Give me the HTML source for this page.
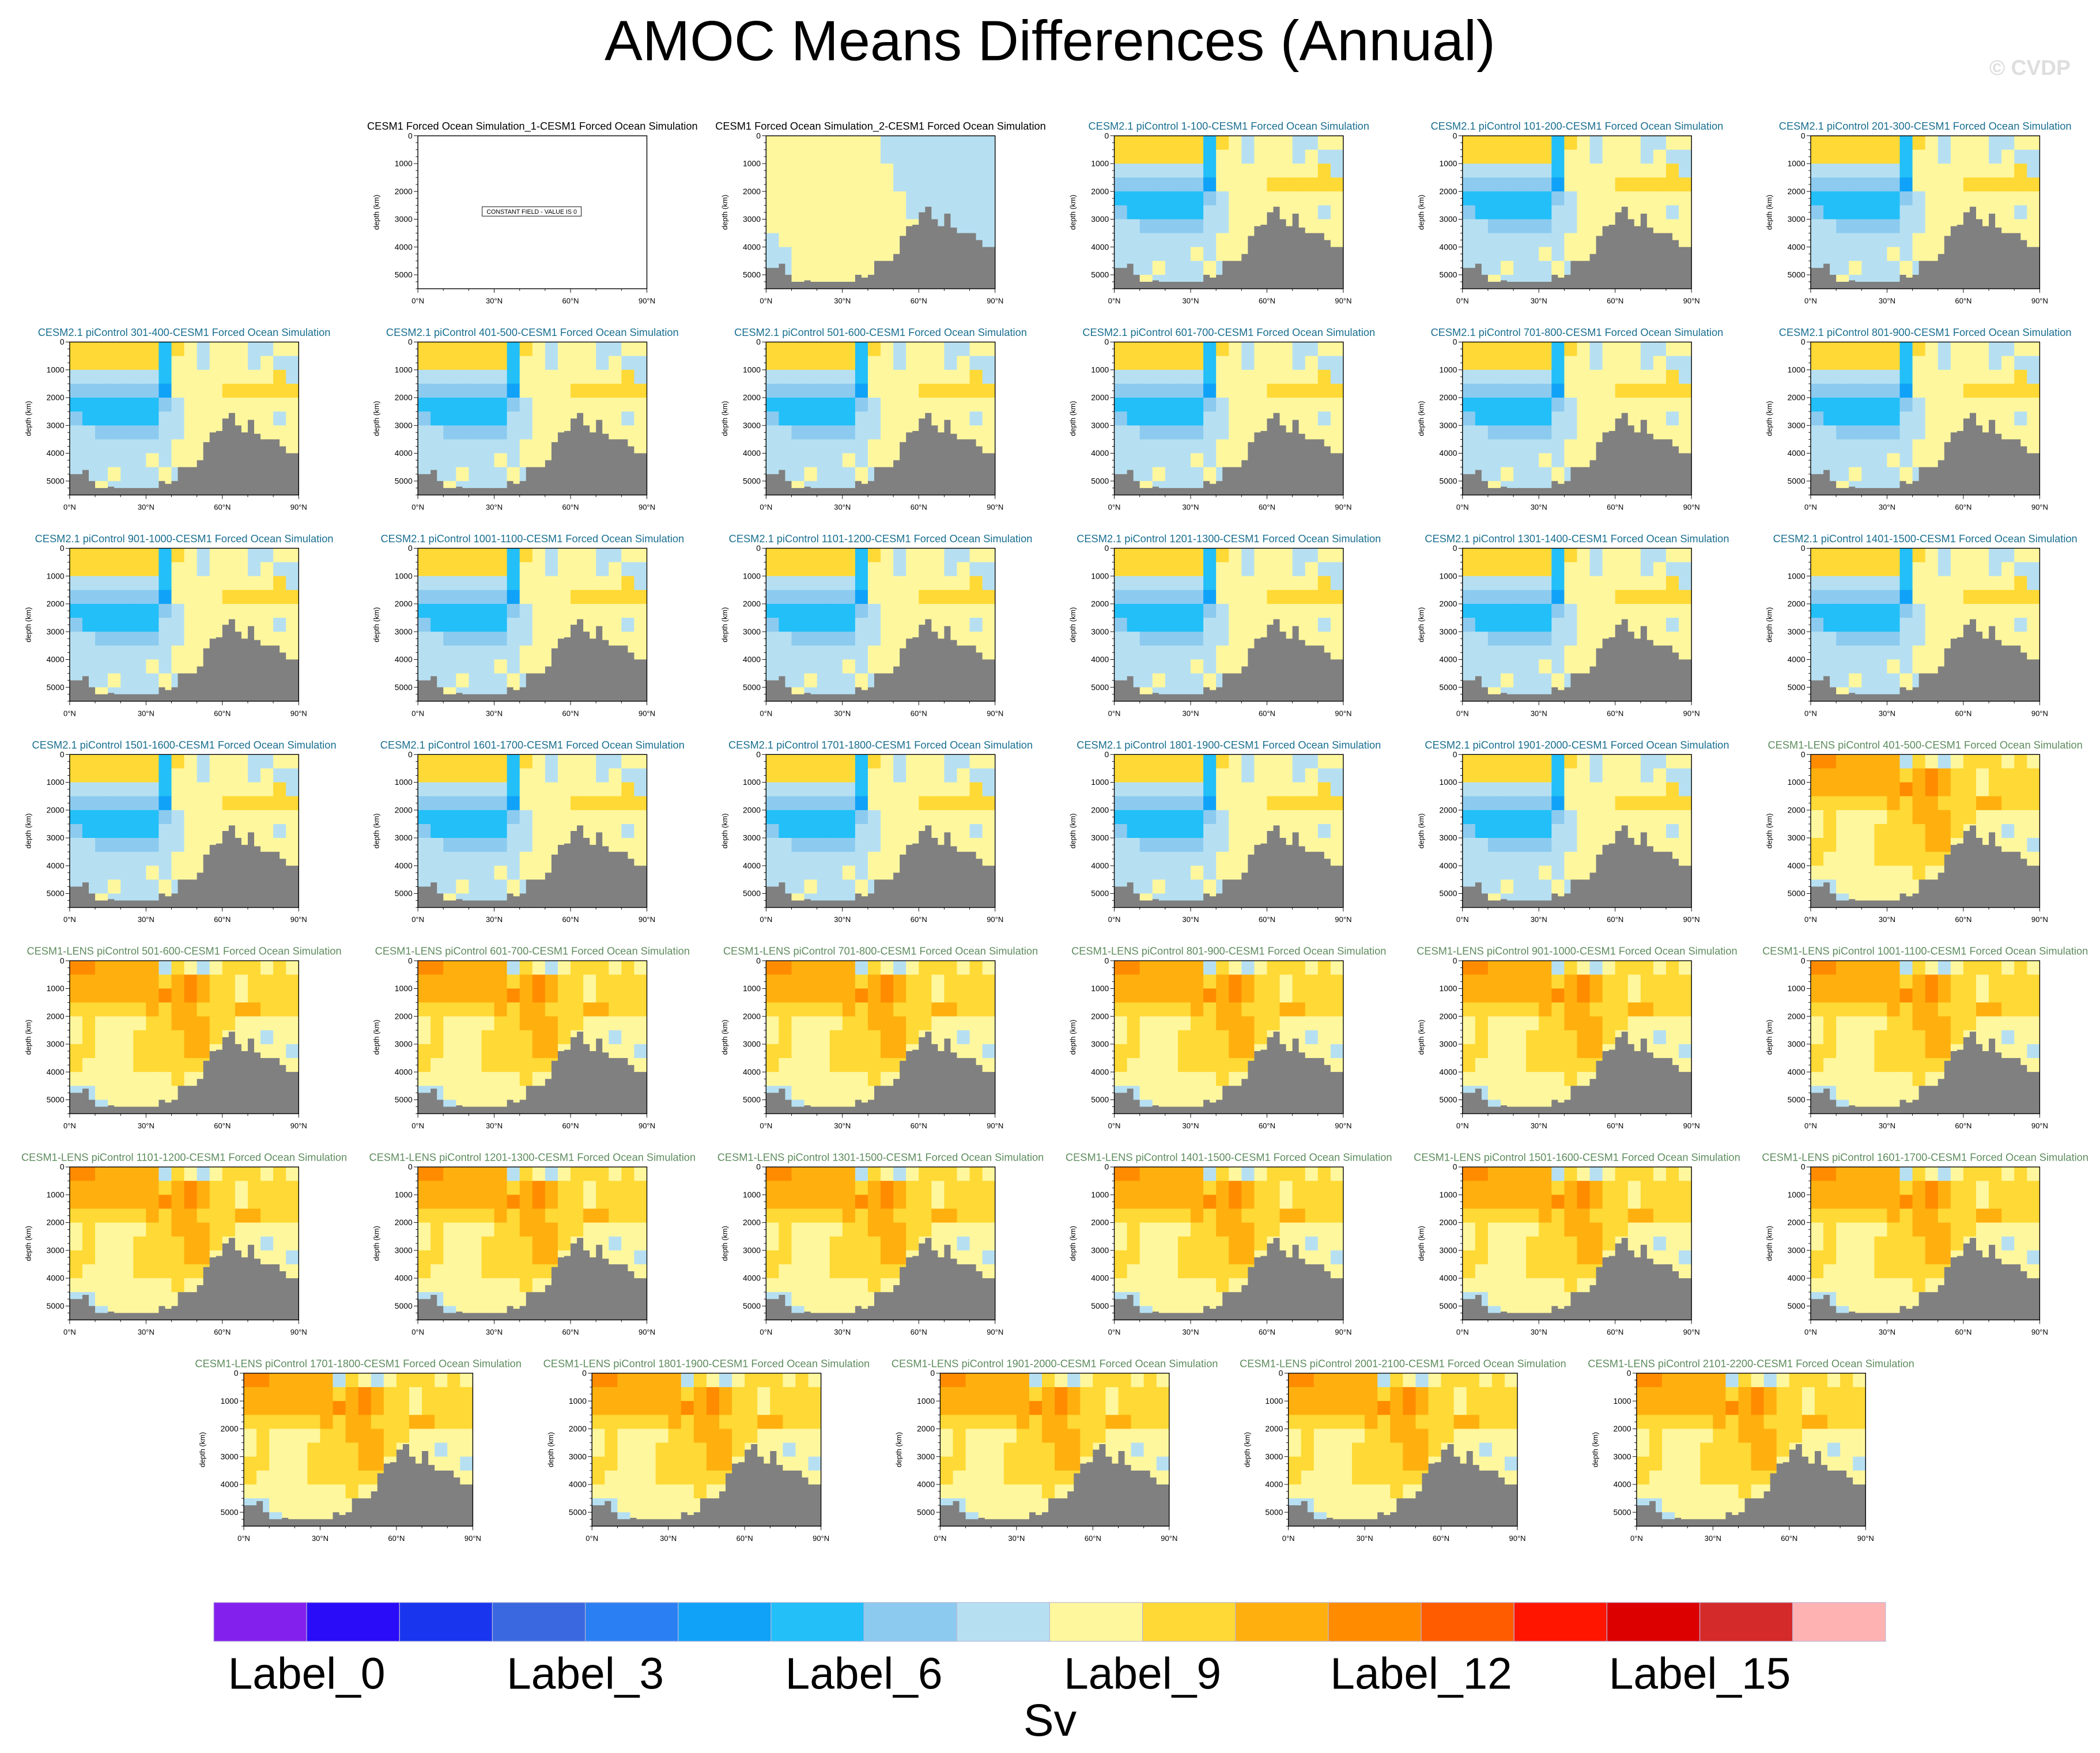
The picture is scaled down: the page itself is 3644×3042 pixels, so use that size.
<!DOCTYPE html>
<html><head><meta charset="utf-8"><style>
html,body{margin:0;padding:0;background:#fff}
svg{display:block}
text{font-family:"Liberation Sans",sans-serif}
</style></head><body>
<svg id="chart" xmlns="http://www.w3.org/2000/svg" width="3644" height="3042" viewBox="0 0 1568 1309">
<rect x="0" y="0" width="1568" height="1309" fill="#fff"/>
<text x="784" y="45" font-size="42.5" text-anchor="middle">AMOC Means Differences (Annual)</text>
<text x="1546" y="56" font-size="16" font-weight="bold" fill="#dedede" text-anchor="end">© CVDP</text>
<g id="panels"></g>
<g id="cbar"></g>
<text x="784" y="1296" font-size="34" text-anchor="middle">Sv</text>
</svg>
<script>
const colors=["#8420ee","#2b0cf8","#1a35ee","#3a68e0","#2a80f2","#10a2f8","#22bff8","#8ccbef","#b6e0f2","#fff79e","#ffd935","#ffb00e","#ff8c00","#ff5c00","#ff1500","#dd0000","#d42a2a","#ffb2b2"];
const cbarLabels=["Label_0","Label_3","Label_6","Label_9","Label_12","Label_15"];
const depthTicks=[0,1000,2000,3000,4000,5000];
const latTicks=[0,30,60,90];
const topo=[4750,4750,4600,5000,5250,5250,5200,5250,5250,5250,5250,5250,5250,5250,5000,5100,5000,4500,4500,4500,4250,3600,3250,3200,2750,2550,3000,3250,2800,3300,3500,3500,3500,3750,4000,4000];
const gridCESM2=["aaaaaaa6a989998899","aaaaaaa69989998988","8888888699999999a8","777777759999aaaaaa","666666678999999999","766666688999999989","887777788999999999","888888889999999999","888888989999999999","888988898999999999","989888899999999999"];
const gridLENS=["ccbbbbb8a989aaa9a9","bbbbbbbabcbaa9aaaa","bbbbbbbcbcbaa9aaaa","aaaaaababbaaabbaaa","9a9999aabbbaa99999","9a999aaaabba999899","aa999aaaabb9999998","a9999aaaaaa9999999","99999999a999999999","889999999999999999","988999998999999999"];
const gridSim2=["999999999888888888","999999999888888888","999999999988888888","999999999988888888","999999999998888888","999999999998888888","999999999999888888","899999999999888888","889999999999988888","889999999999998888","999999999999998888"];
const titles=[
["CESM1 Forced Ocean Simulation_1-CESM1 Forced Ocean Simulation","const"],
["CESM1 Forced Ocean Simulation_2-CESM1 Forced Ocean Simulation","sim2"],
["CESM2.1 piControl 1-100-CESM1 Forced Ocean Simulation","c2"],
["CESM2.1 piControl 101-200-CESM1 Forced Ocean Simulation","c2"],
["CESM2.1 piControl 201-300-CESM1 Forced Ocean Simulation","c2"],
["CESM2.1 piControl 301-400-CESM1 Forced Ocean Simulation","c2"],
["CESM2.1 piControl 401-500-CESM1 Forced Ocean Simulation","c2"],
["CESM2.1 piControl 501-600-CESM1 Forced Ocean Simulation","c2"],
["CESM2.1 piControl 601-700-CESM1 Forced Ocean Simulation","c2"],
["CESM2.1 piControl 701-800-CESM1 Forced Ocean Simulation","c2"],
["CESM2.1 piControl 801-900-CESM1 Forced Ocean Simulation","c2"],
["CESM2.1 piControl 901-1000-CESM1 Forced Ocean Simulation","c2"],
["CESM2.1 piControl 1001-1100-CESM1 Forced Ocean Simulation","c2"],
["CESM2.1 piControl 1101-1200-CESM1 Forced Ocean Simulation","c2"],
["CESM2.1 piControl 1201-1300-CESM1 Forced Ocean Simulation","c2"],
["CESM2.1 piControl 1301-1400-CESM1 Forced Ocean Simulation","c2"],
["CESM2.1 piControl 1401-1500-CESM1 Forced Ocean Simulation","c2"],
["CESM2.1 piControl 1501-1600-CESM1 Forced Ocean Simulation","c2"],
["CESM2.1 piControl 1601-1700-CESM1 Forced Ocean Simulation","c2"],
["CESM2.1 piControl 1701-1800-CESM1 Forced Ocean Simulation","c2"],
["CESM2.1 piControl 1801-1900-CESM1 Forced Ocean Simulation","c2"],
["CESM2.1 piControl 1901-2000-CESM1 Forced Ocean Simulation","c2"],
["CESM1-LENS piControl 401-500-CESM1 Forced Ocean Simulation","le"],
["CESM1-LENS piControl 501-600-CESM1 Forced Ocean Simulation","le"],
["CESM1-LENS piControl 601-700-CESM1 Forced Ocean Simulation","le"],
["CESM1-LENS piControl 701-800-CESM1 Forced Ocean Simulation","le"],
["CESM1-LENS piControl 801-900-CESM1 Forced Ocean Simulation","le"],
["CESM1-LENS piControl 901-1000-CESM1 Forced Ocean Simulation","le"],
["CESM1-LENS piControl 1001-1100-CESM1 Forced Ocean Simulation","le"],
["CESM1-LENS piControl 1101-1200-CESM1 Forced Ocean Simulation","le"],
["CESM1-LENS piControl 1201-1300-CESM1 Forced Ocean Simulation","le"],
["CESM1-LENS piControl 1301-1500-CESM1 Forced Ocean Simulation","le"],
["CESM1-LENS piControl 1401-1500-CESM1 Forced Ocean Simulation","le"],
["CESM1-LENS piControl 1501-1600-CESM1 Forced Ocean Simulation","le"],
["CESM1-LENS piControl 1601-1700-CESM1 Forced Ocean Simulation","le"],
["CESM1-LENS piControl 1701-1800-CESM1 Forced Ocean Simulation","le"],
["CESM1-LENS piControl 1801-1900-CESM1 Forced Ocean Simulation","le"],
["CESM1-LENS piControl 1901-2000-CESM1 Forced Ocean Simulation","le"],
["CESM1-LENS piControl 2001-2100-CESM1 Forced Ocean Simulation","le"],
["CESM1-LENS piControl 2101-2200-CESM1 Forced Ocean Simulation","le"]
];
const NS="http://www.w3.org/2000/svg";
function mk(tag,attrs,parent){const e=document.createElementNS(NS,tag);for(const k in attrs)e.setAttribute(k,attrs[k]);parent.appendChild(e);return e;}
const panels=document.getElementById('panels');
const PW=171,PH=114.2,T0=101.4,RS=154;
const colLeft=[52,312,572,832,1092,1352];
const titleColor={const:"#000",sim2:"#000",c2:"#1a6f90",le:"#5e8c5e"};
titles.forEach((t,i)=>{
  let r,c,L;
  if(i<5){r=0;c=i+1;L=colLeft[c];}
  else if(i<35){r=1+Math.floor((i-5)/6);c=(i-5)%6;L=colLeft[c];}
  else{r=6;c=i-35;L=182+260*c;}
  const T=T0+RS*r;
  const xs=lat=>L+lat/90*PW, ys=d=>T+d/5500*PH;
  const g=mk('g',{},panels);
  
  
  const tt=mk('text',{x:L+PW/2,y:T-4.5,'font-size':7.85,'text-anchor':'middle',fill:titleColor[t[1]]},g);
  
  
  tt.textContent=t[0];
  if(t[1]!=='const'){
    const grid=t[1]==='c2'?gridCESM2:(t[1]==='le'?gridLENS:gridSim2);
    grid.forEach((row,ri)=>{
      for(let ci=0;ci<row.length;ci++){
        const lv=parseInt(row[ci],16);
        const x0=xs(ci*5),x1=xs((ci+1)*5),y0=ys(ri*500),y1=ys((ri+1)*500);
        const rc=mk('rect',{x:x0,y:y0,width:Math.min(x1-x0+0.4,L+PW-x0),height:Math.min(y1-y0+0.4,T+PH-y0),fill:colors[lv]},g);
        
        
      }
    });
    let p='M'+xs(0)+','+ys(5500);
    topo.forEach((d,k)=>{p+=' L'+xs(k*2.5)+','+ys(d)+' L'+xs((k+1)*2.5)+','+ys(d);});
    p+=' L'+xs(90)+','+ys(5500)+' Z';
    const tp=mk('path',{d:p,fill:'#808080'},g);
    
    
  } else {
    const bx=mk('rect',{x:L+48,y:T+53,width:74,height:7,fill:'#fff',stroke:'#000','stroke-width':0.4},g);
    
    
    const bt=mk('text',{x:L+85,y:T+58.3,'font-size':4.6,'text-anchor':'middle'},g);
    
    
    bt.textContent='CONSTANT FIELD - VALUE IS 0';
  }
  const fr=mk('rect',{x:L,y:T,width:PW,height:PH,fill:'none',stroke:'#000','stroke-width':0.6},g);
  
  
  for(let d=0;d<=5500;d+=250){
    const major=d%1000===0;
    const tk=mk('line',{x1:L,x2:L-(major?3:1.6),y1:ys(d),y2:ys(d),stroke:'#000','stroke-width':0.4},g);
    
    
  }
  depthTicks.forEach(d=>{
    const tl=mk('text',{x:L-4,y:ys(d)+2,'font-size':6,'text-anchor':'end'},g);
    
    
    tl.textContent=d;
  });
  for(let a=0;a<=90;a+=10){
    const major=a%30===0;
    const tk=mk('line',{x1:xs(a),x2:xs(a),y1:T+PH,y2:T+PH+(major?3:1.6),stroke:'#000','stroke-width':0.4},g);
    
    
  }
  latTicks.forEach(a=>{
    const xl=mk('text',{x:xs(a),y:T+PH+11,'font-size':5.6,'text-anchor':'middle'},g);
    
    
    xl.textContent=a+'°N';
  });
  const yt=mk('text',{x:L-29,y:T+PH/2,'font-size':5.5,'text-anchor':'middle',transform:'rotate(-90 '+(L-29)+' '+(T+PH/2)+')'},g);
  
  
  yt.textContent='depth (km)';
});
const cb=document.getElementById('cbar');
const CX=159.6,CY=1196.6,CW=69.35,CH=29;
colors.forEach((c,k)=>{
  const r=mk('rect',{x:CX+k*CW,y:CY,width:CW,height:CH,fill:c,stroke:'#b8b8d8','stroke-width':0.5},cb);
  
  
});
cbarLabels.forEach((s,k)=>{
  const t=mk('text',{x:CX+(1+3*k)*CW,y:1261,'font-size':33,'text-anchor':'middle'},cb);
  
  
  t.textContent=s;
});
</script>
</body></html>
